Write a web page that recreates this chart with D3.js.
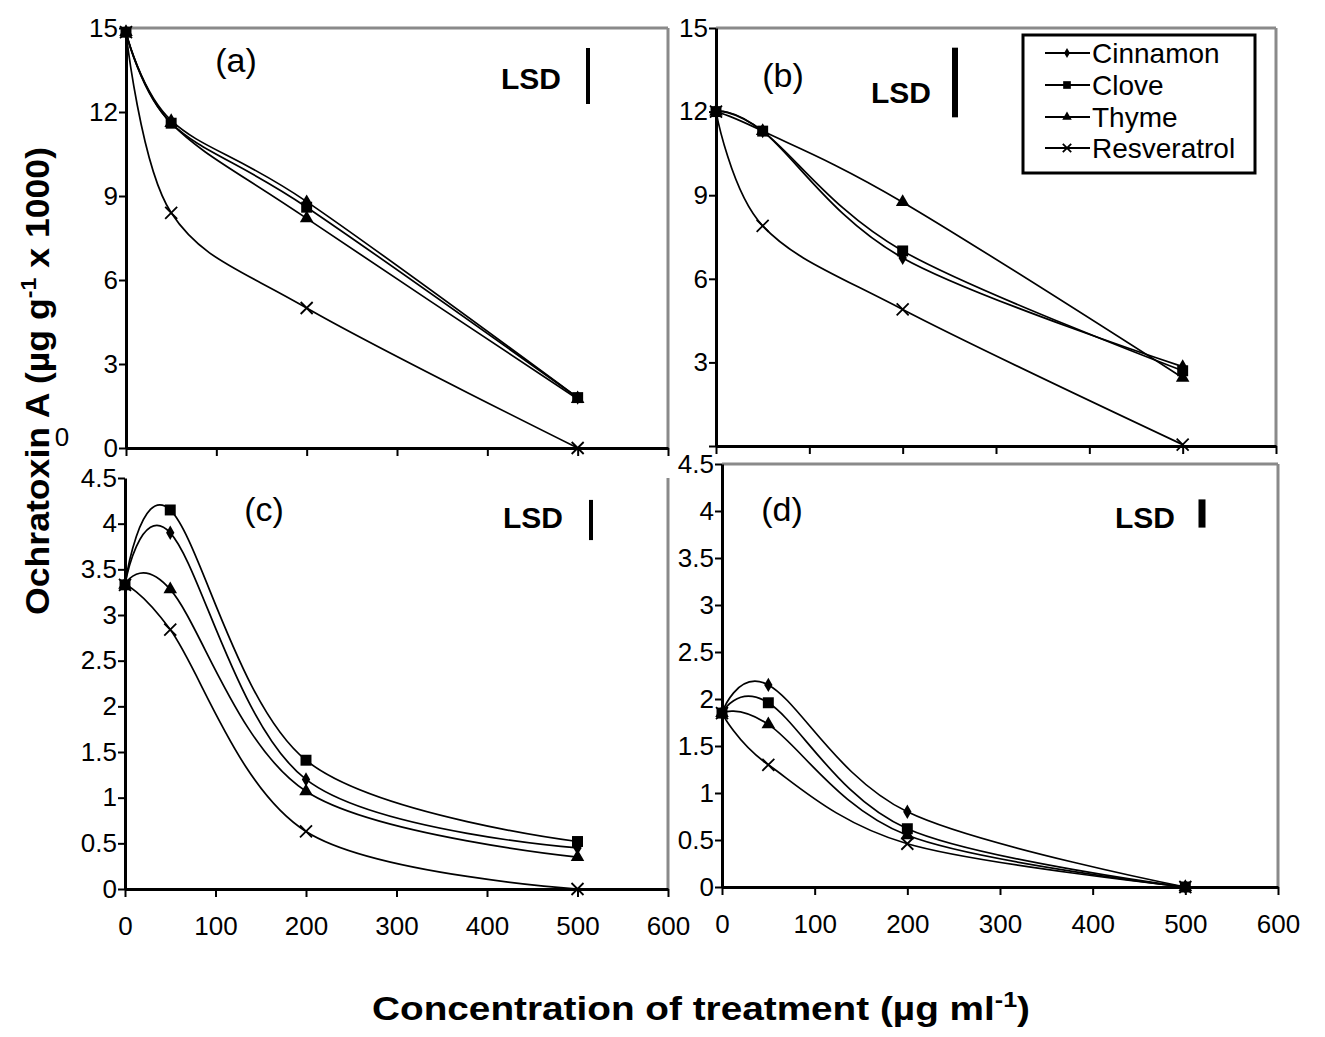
<!DOCTYPE html>
<html><head><meta charset="utf-8">
<script src="https://cdn.jsdelivr.net/npm/d3@7"></script>
<style>
body{margin:0;background:#fff}
svg{display:block}
text{font-family:"Liberation Sans",Arial,Helvetica,sans-serif;fill:#000}
</style>
</head><body>
<svg id="chart" width="1325" height="1037"></svg>
<script>
// ---------------- data ----------------
const seriesNames = ["Cinnamon", "Clove", "Thyme", "Resveratrol"];
const concentrations = [0, 50, 200, 500];
// each panel: one row per series (Cinnamon, Clove, Thyme, Resveratrol)
const panelA = [[14.85, 11.7, 8.8, 1.8], [14.85, 11.6, 8.6, 1.8], [14.85, 11.6, 8.2, 1.75], [14.85, 8.4, 5.0, 0.0]];
const panelB = [[12, 11.3, 6.75, 2.85], [12, 11.3, 7.0, 2.7], [12, 11.3, 8.75, 2.45], [12, 7.9, 4.9, 0.05]];
const panelC = [[3.33, 3.9, 1.2, 0.45], [3.33, 4.15, 1.41, 0.52], [3.33, 3.28, 1.07, 0.35], [3.33, 2.84, 0.63, 0.0]];
const panelD = [[1.85, 2.15, 0.8, 0], [1.85, 1.96, 0.62, 0], [1.85, 1.73, 0.55, 0], [1.85, 1.3, 0.46, 0]];
const xTicks = [0, 100, 200, 300, 400, 500, 600];
const yTicksTop = [0, 3, 6, 9, 12, 15];
const yTicksBottom = [0, 0.5, 1, 1.5, 2, 2.5, 3, 3.5, 4, 4.5];
const lsdValues = [2.0, 2.5, 0.44, 0.3];
const panelLabels = ["(a)", "(b)", "(c)", "(d)"];
const yTitle = "Ochratoxin A (µg g";
const xTitle = "Concentration of treatment (µg ml";

// ---------------- layout ----------------
const layout = [
  {l:126, t:28,  r:668,  b:448, ymax:15,  yt:yTicksTop,    xlab:false, hideY:[],  top:true,  right:true,
   lab:[236,72],  lsdT:[561,89],  lsdB:[588,76],  lsdW:4},
  {l:716, t:28,  r:1276, b:446, ymax:15,  yt:yTicksTop,    xlab:false, hideY:[0], top:true,  right:true,
   lab:[783,87],  lsdT:[931,103], lsdB:[955,82.5], lsdW:6},
  {l:125, t:478, r:668,  b:889, ymax:4.5, yt:yTicksBottom, xlab:true,  hideY:[],  top:false, right:true,
   lab:[264,521], lsdT:[563,528], lsdB:[591,520], lsdW:4},
  {l:722, t:464, r:1278, b:887, ymax:4.5, yt:yTicksBottom, xlab:true,  hideY:[],  top:true,  right:true,
   lab:[782,521], lsdT:[1175,528], lsdB:[1202,513.5], lsdW:7}
];
const panelData = [panelA, panelB, panelC, panelD];
const svg = d3.select("#chart");
const gray = "#8a8a8a";
const symbols = [d3.symbolDiamond, d3.symbolSquare, d3.symbolTriangle];
const symSizes = [60, 120, 80];

function drawMarker(g, s, cx, cy, scale) {
  const k = scale || 1;
  if (s === 3) {
    const r = 6 * k;
    g.append("path")
      .attr("d", `M${cx-r},${cy-r}L${cx+r},${cy+r}M${cx-r},${cy+r}L${cx+r},${cy-r}`)
      .attr("stroke", "#000").attr("stroke-width", 1.8).attr("fill", "none");
  } else {
    g.append("path")
      .attr("d", d3.symbol().type(symbols[s]).size(symSizes[s] * k * k)())
      .attr("transform", `translate(${cx},${cy})`)
      .attr("fill", "#000");
  }
}

function styleAxis(sel) {
  sel.select(".domain").attr("stroke", "#000").attr("stroke-width", 3);
  sel.selectAll(".tick line").attr("stroke", "#000").attr("stroke-width", 2);
  sel.selectAll(".tick text").attr("font-size", 26).attr("fill", "#000")
    .style("font-family", '"Liberation Sans",Arial,sans-serif');
}

panelData.forEach((data, i) => {
  const L = layout[i];
  const x = d3.scaleLinear().domain([0, 600]).range([L.l, L.r]);
  const y = d3.scaleLinear().domain([0, L.ymax]).range([L.b, L.t]);
  const g = svg.append("g");

  if (L.top) g.append("line").attr("x1", L.l).attr("x2", L.r).attr("y1", L.t).attr("y2", L.t)
    .attr("stroke", gray).attr("stroke-width", 3);
  if (L.right) g.append("line").attr("x1", L.r).attr("x2", L.r).attr("y1", L.t).attr("y2", L.b)
    .attr("stroke", gray).attr("stroke-width", 3);

  const xa = d3.axisBottom(x).tickValues(xTicks).tickSize(8).tickSizeOuter(0).tickPadding(20)
    .tickFormat(L.xlab ? (d => String(d)) : (() => ""));
  g.append("g").attr("transform", `translate(0,${L.b})`).call(xa).call(styleAxis);

  const ya = d3.axisLeft(y).tickValues(L.yt).tickSize(7).tickSizeOuter(0).tickPadding(1)
    .tickFormat(d => L.hideY.includes(d) ? "" : String(d));
  g.append("g").attr("transform", `translate(${L.l},0)`).call(ya).call(styleAxis);

  const line = d3.line().x((d, j) => x(concentrations[j])).y(d => y(d)).curve(d3.curveCardinal.tension(0));
  data.forEach(vals => {
    g.append("path").attr("d", line(vals)).attr("fill", "none")
      .attr("stroke", "#000").attr("stroke-width", 1.7);
  });
  data.forEach((vals, s) => {
    vals.forEach((v, j) => drawMarker(g, s, x(concentrations[j]), y(v)));
  });

  // panel label
  g.append("text").attr("x", L.lab[0]).attr("y", L.lab[1]).attr("text-anchor", "middle")
    .attr("font-size", 34).text(panelLabels[i]);
  // LSD
  g.append("text").attr("x", L.lsdT[0]).attr("y", L.lsdT[1]).attr("text-anchor", "end")
    .attr("font-size", 30).attr("font-weight", "bold").text("LSD");
  const half = (y(0) - y(lsdValues[i])) / 2;
  g.append("line").attr("x1", L.lsdB[0]).attr("x2", L.lsdB[0])
    .attr("y1", L.lsdB[1] - half).attr("y2", L.lsdB[1] + half)
    .attr("stroke", "#000").attr("stroke-width", L.lsdW);
});

// stray label on the left of panel (a)
svg.append("text").attr("x", 62).attr("y", 446).attr("text-anchor", "middle")
  .attr("font-size", 26).text("0");

// legend (inside panel b)
const lg = svg.append("g");
lg.append("rect").attr("x", 1023).attr("y", 35).attr("width", 232).attr("height", 138)
  .attr("fill", "#fff").attr("stroke", "#000").attr("stroke-width", 3);
const rowY = [53, 85, 117, 148];
seriesNames.forEach((name, s) => {
  lg.append("line").attr("x1", 1045).attr("x2", 1090).attr("y1", rowY[s]).attr("y2", rowY[s])
    .attr("stroke", "#000").attr("stroke-width", 2);
  drawMarker(lg, s, 1067, rowY[s], 0.7);
  lg.append("text").attr("x", 1092).attr("y", rowY[s] + 10).attr("font-size", 28).text(name);
});

// axis titles
const yt = svg.append("text").attr("transform", "translate(49,381) rotate(-90)")
  .attr("text-anchor", "middle").attr("font-size", 34).attr("font-weight", "bold")
  .attr("textLength", 468).attr("lengthAdjust", "spacingAndGlyphs");
yt.append("tspan").text(yTitle);
yt.append("tspan").attr("font-size", 22).attr("dy", -13).text("-1");
yt.append("tspan").attr("dy", 13).text(" x 1000)");

const xt = svg.append("text").attr("x", 701).attr("y", 1020)
  .attr("text-anchor", "middle").attr("font-size", 34).attr("font-weight", "bold")
  .attr("textLength", 658).attr("lengthAdjust", "spacingAndGlyphs");
xt.append("tspan").text(xTitle);
xt.append("tspan").attr("font-size", 22).attr("dy", -13).text("-1");
xt.append("tspan").attr("dy", 13).text(")");
</script>
</body></html>
